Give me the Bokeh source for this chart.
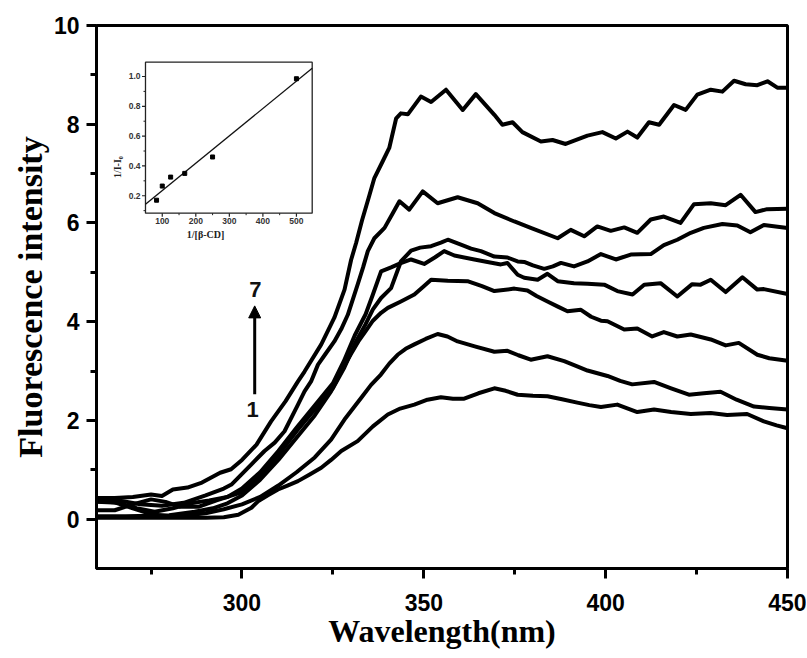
import numpy as np
from bokeh.plotting import figure
from bokeh.models import Range1d, FixedTicker, Label, Arrow, NormalHead
from bokeh.embed import file_html
from bokeh.resources import INLINE
from bokeh.core.properties import value

# ---------------- main spectra (wavelength nm, fluorescence intensity) ----------------
wl_1 = [260, 270, 280, 290, 295, 299, 302.6, 304.4, 307, 309.9, 312.5, 315.4, 318.5, 321.8, 324.5, 327.3,
        331.8, 336, 340.1, 343.5, 347.4, 351, 354.7, 358, 361.1, 365, 369.4, 372.5, 375.8, 380, 384, 388,
        392.2, 395.5, 398.7, 403.2, 408.7, 413.3, 418, 423.4, 428.9, 433.4, 438.9, 443.5, 447, 450]
int_1 = [0.03, 0.03, 0.03, 0.03, 0.04, 0.09, 0.23, 0.36, 0.48, 0.60, 0.68, 0.77, 0.90, 1.04, 1.20, 1.38,
         1.58, 1.88, 2.12, 2.24, 2.32, 2.42, 2.47, 2.44, 2.44, 2.55, 2.65, 2.60, 2.52, 2.50, 2.49, 2.43,
         2.36, 2.31, 2.27, 2.32, 2.17, 2.22, 2.17, 2.13, 2.15, 2.11, 2.13, 1.98, 1.90, 1.84]

wl_2 = [260, 265, 270, 275, 280, 285, 290, 295, 300, 305, 310, 315, 320, 324.5, 328.5, 332.8, 335.5, 338.2,
        340.5, 342.8, 345, 347.4, 350.5, 353.8, 356.5, 359.3, 364, 369.4, 373, 376, 379.4, 384, 388.6, 392,
        395, 400.5, 404, 407.3, 413.3, 418, 422.9, 427, 431.6, 436, 440.8, 445, 450]
int_2 = [0.36, 0.34, 0.22, 0.10, 0.06, 0.08, 0.12, 0.20, 0.30, 0.45, 0.68, 0.95, 1.25, 1.61, 2.05, 2.46, 2.72, 2.93,
         3.15, 3.33, 3.45, 3.54, 3.65, 3.75, 3.70, 3.60, 3.50, 3.39, 3.41, 3.32, 3.23, 3.30, 3.20, 3.10,
         3.01, 2.90, 2.80, 2.73, 2.78, 2.65, 2.52, 2.55, 2.58, 2.42, 2.28, 2.25, 2.22]

wl_3 = [260, 268, 275, 280, 287, 292, 296, 300, 305, 310, 315, 320, 324.5, 327.3, 330, 332, 334.1, 336, 338.25,
        340.1, 343.7, 347.4, 350, 352, 356.6, 362, 366, 369.4, 374.9, 378.5, 381, 384, 387, 389.5, 393.2, 396,
        398.7, 400.5, 405.1, 408.7, 412.8, 416, 419.7, 423.4, 428.9, 433, 436.6, 441.7, 445, 450]
int_3 = [0.06, 0.06, 0.07, 0.08, 0.15, 0.22, 0.32, 0.48, 0.80, 1.20, 1.65, 2.10, 2.59, 3.00, 3.35, 3.60, 3.82, 4.02, 4.18,
         4.28, 4.41, 4.55, 4.72, 4.85, 4.83, 4.82, 4.72, 4.62, 4.67, 4.63, 4.52, 4.41, 4.30, 4.21, 4.24, 4.10,
         4.02, 4.01, 3.84, 3.86, 3.70, 3.79, 3.70, 3.74, 3.64, 3.52, 3.57, 3.33, 3.26, 3.21]

wl_4 = [260, 265, 270, 275, 279, 283, 288, 293, 296, 300, 305, 310, 315, 320, 325, 328, 331, 334, 336, 338.25,
        341, 343.5, 346.5, 350.1, 353, 355.6, 358.4, 363.9, 367.5, 371.2, 373, 375.8, 377.6, 381.3, 384, 386.8,
        391.3, 395, 399.6, 403.2, 407.4, 410.6, 415.1, 419.7, 423.8, 426.1, 428.9, 433, 437.6, 441.7, 443.5, 450]
int_4 = [0.18, 0.18, 0.30, 0.40, 0.35, 0.25, 0.25, 0.38, 0.45, 0.62, 0.95, 1.38, 1.85, 2.30, 2.75, 3.20, 3.72, 4.15, 4.55, 5.02,
         5.10, 5.18, 5.26, 5.17, 5.30, 5.43, 5.34, 5.26, 5.21, 5.16, 5.19, 4.95, 4.89, 4.85, 4.97, 4.82,
         4.78, 4.77, 4.75, 4.62, 4.55, 4.75, 4.78, 4.51, 4.76, 4.75, 4.85, 4.60, 4.90, 4.65, 4.66, 4.56]

wl_5 = [260, 266, 271, 276, 281, 286, 291, 296, 300, 305, 310, 315, 320, 325, 328, 331.5, 334, 336, 338.25, 341,
        343.7, 346.5, 349, 352, 354.7, 356.6, 360.2, 363, 365.7, 369.4, 373, 375.8, 377.6, 380, 383.1, 385.5,
        387.7, 391.3, 395, 398.7, 402.8, 406.9, 412.4, 416, 419.7, 423.4, 427, 432.1, 436.2, 439.8, 443.5, 450]
int_5 = [0.35, 0.33, 0.22, 0.15, 0.22, 0.32, 0.38, 0.45, 0.55, 0.88, 1.30, 1.78, 2.22, 2.65, 3.05, 3.62, 3.95, 4.25, 4.48, 4.68,
         5.22, 5.44, 5.50, 5.53, 5.60, 5.66, 5.56, 5.48, 5.43, 5.32, 5.30, 5.22, 5.21, 5.14, 5.07, 5.12,
         5.19, 5.12, 5.22, 5.37, 5.26, 5.36, 5.37, 5.55, 5.66, 5.80, 5.90, 5.98, 5.95, 5.81, 5.96, 5.90]

wl_6 = [260, 266, 272, 278, 284, 290, 295, 297.1, 299, 302.6, 306.2, 309, 311.7, 315.4, 317.2, 319, 320.9, 323,
        325.4, 327.3, 329.1, 331.8, 333.3, 334.6, 336.4, 339.2, 341.5, 343.3, 346, 349.7, 353.8, 359.3, 364.8,
        369.4, 374.9, 379.4, 386.8, 390.4, 394.1, 397.7, 401.4, 405.1, 408.7, 412.4, 416, 420.6, 424.3, 428.9,
        433, 437.1, 441.2, 444.4, 450]
int_6 = [0.40, 0.38, 0.30, 0.27, 0.33, 0.48, 0.62, 0.70, 0.84, 1.11, 1.38, 1.55, 1.78, 2.32, 2.59, 2.79, 3.13, 3.35,
         3.60, 3.85, 4.14, 4.75, 5.10, 5.43, 5.69, 5.90, 6.20, 6.44, 6.27, 6.64, 6.40, 6.52, 6.40,
         6.20, 6.03, 5.90, 5.69, 5.86, 5.73, 5.93, 5.84, 5.91, 5.80, 6.07, 6.13, 6.00, 6.38, 6.40,
         6.36, 6.57, 6.22, 6.28, 6.29]

wl_7 = [260, 265, 270, 275, 278, 281, 285, 289, 294, 297, 300, 304, 308, 312, 315.4, 317.2, 321.8, 325.4, 328.2,
        330, 331.4, 333, 335, 336.4, 338.7, 340.5, 342.4, 343.7, 345.6, 349.2, 352, 356.1, 360.7, 364.3, 369.4,
        371.6, 374.4, 377.1, 382.2, 385.4, 389, 395, 399.1, 402.8, 406, 408.7, 411.9, 414.7, 418.8, 422, 425.2,
        428.9, 432.1, 435.3, 438.5, 441.7, 444.5, 447.2, 450]
int_7 = [0.43, 0.43, 0.45, 0.50, 0.47, 0.60, 0.64, 0.74, 0.94, 1.01, 1.20, 1.51, 1.98, 2.39, 2.79, 2.99, 3.54, 4.08, 4.65,
         5.25, 5.60, 6.05, 6.55, 6.91, 7.25, 7.52, 8.12, 8.22, 8.20, 8.56, 8.45, 8.70, 8.29, 8.61, 8.19,
         7.99, 8.04, 7.84, 7.65, 7.68, 7.60, 7.77, 7.84, 7.71, 7.85, 7.73, 8.04, 7.99, 8.39, 8.29, 8.60,
         8.70, 8.66, 8.88, 8.81, 8.79, 8.87, 8.74, 8.74]

spectra_x = [wl_1, wl_2, wl_3, wl_4, wl_5, wl_6, wl_7]
spectra_y = [int_1, int_2, int_3, int_4, int_5, int_6, int_7]

x_ticks = [300, 350, 400, 450]
x_minor = [275, 325, 375, 425]
y_ticks = [0, 2, 4, 6, 8, 10]
y_minor = [1, 3, 5, 7, 9]

# ---------------- inset: double reciprocal plot ----------------
inv_cd = [83, 100, 125, 167, 250, 500]
inv_dI = [0.17, 0.265, 0.325, 0.35, 0.46, 0.985]
ins_x_ticks = [100, 200, 300, 400, 500]
ins_x_minor = [150, 250, 350, 450]
ins_x_labels = ["100", "200", "300", "400", "500"]
ins_y_ticks = [0.2, 0.4, 0.6, 0.8, 1.0]
ins_y_minor = [0.1, 0.3, 0.5, 0.7, 0.9]
ins_y_labels = ["0.2", "0.4", "0.6", "0.8", "1.0"]

# ---------------- figure ----------------
p = figure(width=806, height=658, x_range=Range1d(260, 450), y_range=Range1d(-1, 10),
           output_backend="svg", toolbar_location=None,
           min_border_left=96, min_border_right=19, min_border_top=25, min_border_bottom=90)
p.grid.visible = False
p.background_fill_color = "white"
p.border_fill_color = "white"
p.outline_line_color = "black"
p.outline_line_width = 3
p.outline_line_alpha = 1.0

for ax in (p.xaxis[0], p.yaxis[0]):
    ax.axis_line_width = 3
    ax.axis_line_color = "black"
    ax.major_tick_line_width = 3
    ax.minor_tick_line_width = 3
    ax.major_tick_in = 0
    ax.major_tick_out = 10
    ax.minor_tick_in = 0
    ax.minor_tick_out = 6
    ax.major_label_text_font = "Liberation Sans"
    ax.major_label_text_font_style = "bold"
    ax.major_label_text_font_size = "23px"
    ax.major_label_text_color = "black"
    ax.axis_label_text_font = "Liberation Serif"
    ax.axis_label_text_font_style = "bold"
    ax.axis_label_text_color = "black"

p.xaxis[0].ticker = FixedTicker(ticks=x_ticks, minor_ticks=x_minor)
p.yaxis[0].ticker = FixedTicker(ticks=y_ticks, minor_ticks=y_minor)
p.xaxis[0].major_label_standoff = 15
p.yaxis[0].major_label_standoff = 7

p.xaxis[0].axis_label = "Wavelength(nm)"
p.xaxis[0].axis_label_text_font_size = "32px"
p.xaxis[0].axis_label_standoff = -1
p.yaxis[0].axis_label = "Fluorescence intensity"
p.yaxis[0].axis_label_text_font_size = "34px"
p.yaxis[0].axis_label_standoff = 2

for xs, ys in zip(spectra_x, spectra_y):
    p.line(xs, ys, line_color="black", line_width=4, line_join="round")

# arrow 1 -> 7
arrow_x = 303.5
arrow_y0 = 2.53
arrow_y1 = 4.32
p.add_layout(Arrow(end=NormalHead(size=12, fill_color="black", line_color="black", line_width=1),
                   x_start=arrow_x, y_start=arrow_y0, x_end=arrow_x, y_end=arrow_y1,
                   line_width=3, line_color="black"))
p.add_layout(Label(x=303.7, y=4.66, text="7", text_font="Liberation Sans", text_font_style="bold",
                   text_font_size="22px", text_align="center", text_baseline="middle", text_color="#111111"))
p.add_layout(Label(x=302.9, y=2.22, text="1", text_font="Liberation Sans", text_font_style="bold",
                   text_font_size="22px", text_align="center", text_baseline="middle", text_color="#111111"))

# ---------------- inset drawn in its own sub-coordinates ----------------
ins_xr = Range1d(50, 547)
ins_yr = Range1d(0.083, 1.096)
sub = p.subplot(x_source=ins_xr, y_source=ins_yr,
                x_target=Range1d(273.47, 319.31), y_target=Range1d(6.198, 9.257))

sub.quad(left=[ins_xr.start], right=[ins_xr.end], bottom=[ins_yr.start], top=[ins_yr.end],
         fill_color="white", line_color="#222222", line_width=1.3)

slope, intercept = np.polyfit(inv_cd, inv_dI, 1)
fit_x = [ins_xr.start, ins_xr.end]
fit_y = [intercept + slope * v for v in fit_x]
sub.line(fit_x, fit_y, line_color="#111111", line_width=1.3)
sub.scatter(inv_cd, inv_dI, marker="square", size=4, fill_color="black", line_color="black")

# inset ticks
sub.ray(x=ins_x_ticks, y=[ins_yr.start] * len(ins_x_ticks), length=3.5, length_units="screen",
        angle=-np.pi / 2, line_color="#222222", line_width=1.2)
sub.ray(x=ins_x_minor, y=[ins_yr.start] * len(ins_x_minor), length=2, length_units="screen",
        angle=-np.pi / 2, line_color="#222222", line_width=1.0)
sub.ray(x=[ins_xr.start] * len(ins_y_ticks), y=ins_y_ticks, length=3.5, length_units="screen",
        angle=np.pi, line_color="#222222", line_width=1.2)
sub.ray(x=[ins_xr.start] * len(ins_y_minor), y=ins_y_minor, length=2, length_units="screen",
        angle=np.pi, line_color="#222222", line_width=1.0)

sub.text(x=ins_x_ticks, y=[ins_yr.start] * len(ins_x_ticks), text=ins_x_labels, y_offset=5,
         text_font=value("Liberation Sans"), text_font_style="bold", text_font_size="8.5px",
         text_align="center", text_baseline="top", text_color="#333333")
sub.text(x=[ins_xr.start] * len(ins_y_ticks), y=ins_y_ticks, text=ins_y_labels, x_offset=-5,
         text_font=value("Liberation Sans"), text_font_style="bold", text_font_size="8.5px",
         text_align="right", text_baseline="middle", text_color="#333333")

sub.text(x=[-34.4], y=[0.392], text=["1/I-I\u2080"], angle=np.pi / 2,
         text_font=value("Liberation Serif"), text_font_style="bold", text_font_size="10px",
         text_align="center", text_baseline="middle", text_color="#222222")
sub.text(x=[229], y=[-0.060], text=["1/[\u03b2-CD]"],
         text_font=value("Liberation Serif"), text_font_style="bold", text_font_size="10px",
         text_align="center", text_baseline="middle", text_color="#222222")

open("out.html", "w").write(file_html(p, INLINE))
